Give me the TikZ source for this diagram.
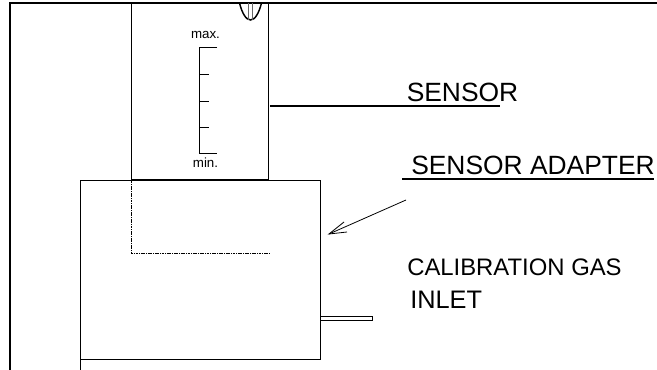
\documentclass[tikz,border=0pt]{standalone}
\usepackage{fontspec}
\setmainfont{Liberation Sans}
\tikzset{
  wall/.style={line width=1.5pt},
  thin wall/.style={line width=0.75pt},
  tick/.style={line width=0.7pt},
  mark label/.style={inner sep=0pt,anchor=base,font=\fontsize{10}{10}\selectfont},
  big label/.style={inner sep=0pt,anchor=base west,font=\fontsize{19.8}{20}\selectfont},
  mid label/.style={inner sep=0pt,anchor=base west,font=\fontsize{17.9}{20}\selectfont},
}
\begin{document}
\begin{tikzpicture}[x=0.75pt,y=-0.75pt]
    \useasboundingbox (0,0) rectangle (657,370);
    % frame
    \draw[wall] (10,370) -- (10,3) -- (657,3);
    % sensor
    \node[draw,line width=0.75pt,outer sep=0pt,minimum width=102.75pt,minimum height=132.4pt,inner sep=0pt,anchor=north west] (sensor) at (131.5,3) {};
    \draw[line width=1.1pt] (239.5,3) .. controls (242,13) and (246,20) .. (250.5,20) .. controls (255,20) and (259,13) .. (261.5,3);
    \draw[line width=0.7pt,black!60] (248,3) -- (248,20);
    \draw[line width=0.7pt,black!60] (252.5,3) -- (252.5,20);
    % scale
    \node[mark label] (max) at (205.5,39) {max.};
    \node[mark label] (min) at (205.5,168) {min.};
    \draw[tick] (217,47.5) -- (199.5,47.5) -- (199.5,153.5) -- (217,153.5);
    \foreach \y in {74.5,101.5,127.5} {
        \draw[tick] (199.5,\y) -- (209,\y);
    }
    % adapter
    \draw[thin wall] (80.5,370) -- (80.5,180.5) -- (320.5,180.5) -- (320.5,359.5) -- (80.5,359.5);
    \draw[line width=0.75pt,dash pattern=on 0.9pt off 0.4pt] (131,180.5) -- (131,254) -- (269,254);
    % inlet
    \draw[thin wall] (320.5,316.5) -- (372,316.5) -- (372,320.5) -- (320.5,320.5);
    % labels
    \node[big label] (sensorlabel) at (406.5,102) {SENSOR};
    \node[big label] (adapterlabel) at (411,175) {SENSOR ADAPTER};
    \node[mid label] (gaslabel) at (407,276) {CALIBRATION GAS};
    \node[mid label,font=\fontsize{19}{20}\selectfont] (inletlabel) at (410,309) {INLET};
    \coordinate (sensorend) at (500,106);
    \coordinate (adapterstart) at (402,179);
    \coordinate (adapterend) at (654,179);
    \coordinate (arrowstart) at (406,200);
    \coordinate (arrowtip) at (329,234);
    \draw[wall,shorten <=1.1pt] (sensor.east |- sensorend) -- (sensorend);
    \draw[wall] (adapterstart) -- (adapterend);
    \draw[line width=0.6pt] (arrowstart) -- (arrowtip);
    \draw[line width=0.6pt] (344,222) -- (arrowtip) -- (347,232);
\end{tikzpicture}
\end{document}
